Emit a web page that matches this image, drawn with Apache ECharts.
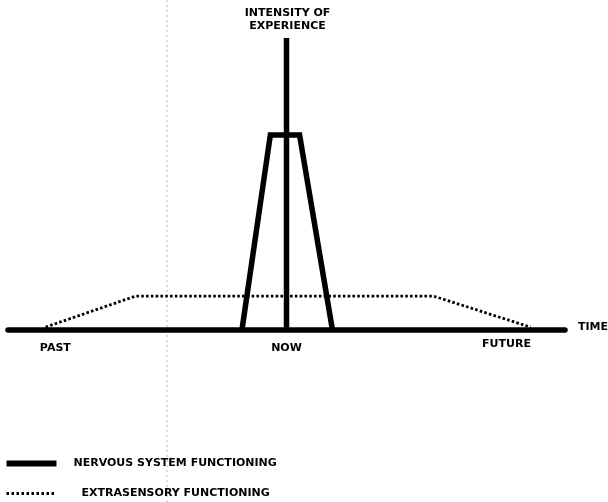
<!DOCTYPE html>
<html>
<head>
<meta charset="utf-8">
<script src="https://cdn.jsdelivr.net/npm/echarts@6/dist/echarts.min.js"></script>
<style>
html,body{margin:0;padding:0;background:#fff;}
#chart{width:608px;height:502px;}
</style>
</head>
<body>
<div id="chart"></div>
<script>
// Time axis: NOW = 0, PAST negative, FUTURE positive. Intensity: 0 (baseline) .. 10 (top of axis)
const seriesNames = ['NERVOUS SYSTEM FUNCTIONING', 'EXTRASENSORY FUNCTIONING'];
const timeLine = [[-10, 0], [10, 0]];                       // the time baseline
const intensityAxis = [[0, 0], [0, 10]];                    // vertical "intensity of experience" axis
const nervousTrapezoid = [[-1.6, 0], [-0.58, 6.68], [0.47, 6.68], [1.65, 0]];
const extrasensory = [[-8.65, 0.1], [-5.42, 1.16], [5.28, 1.16], [8.76, 0.1]];
const timeLabels = ['PAST', 'NOW', 'FUTURE'];
const timeLabelAt = [-8.3, 0, 7.9];
const axisTitle = 'INTENSITY OF\nEXPERIENCE';
const timeTitle = 'TIME';

const FONT = 'DejaVu Sans';
const chart = echarts.init(document.getElementById('chart'), null, {renderer: 'canvas'});

const thick = {color: '#000', width: 5.5, join: 'miter', cap: 'butt'};
function nsSeries(data, cap) {
  return {
    type: 'line', name: seriesNames[0], data: data, symbol: 'none', silent: true,
    clip: false, animation: false, z: 3,
    itemStyle: {color: '#000'},
    lineStyle: Object.assign({}, thick, cap ? {cap: cap} : {})
  };
}

chart.setOption({
  backgroundColor: '#fff',
  animation: false,
  grid: {left: 8, width: 557, top: 38, height: 292},
  xAxis: {type: 'value', min: -10, max: 10, show: false},
  yAxis: {type: 'value', min: 0, max: 10, show: false},
  legend: {
    orient: 'vertical', left: 5, top: 458, padding: 0,
    itemWidth: 50, itemHeight: 6, itemGap: 19,
    selectedMode: false,
    textStyle: {fontFamily: FONT, fontWeight: 'bold', fontSize: 11, color: '#000'},
    data: [
      {name: seriesNames[0], icon: 'rect', itemStyle: {color: '#000', opacity: 1},
       lineStyle: {width: 6, color: '#000'},
       textStyle: {padding: [0, 0, 0, 12]}},
      {name: seriesNames[1],
       itemStyle: {color: 'rgba(0,0,0,0)', opacity: 0, borderWidth: 0},
       lineStyle: {width: 3, type: [2.5, 2.5], color: '#000', opacity: 1},
       textStyle: {padding: [0, 0, 0, 20]}}
    ]
  },
  series: [
    {
      type: 'line', name: seriesNames[1], data: extrasensory, symbol: 'none', silent: true,
      clip: false, z: 2,
      itemStyle: {color: '#000'},
      lineStyle: {color: '#000', width: 2.8, type: [2.6, 2.2], cap: 'butt'}
    },
    nsSeries(timeLine, 'round'),
    nsSeries(nervousTrapezoid),
    nsSeries(intensityAxis)
  ]
});

// labels positioned through the chart's own scales
const texts = [];
timeLabels.forEach(function (t, i) {
  const p = chart.convertToPixel({gridIndex: 0}, [timeLabelAt[i], 0]);
  texts.push({type: 'text', x: p[0], y: p[1] + (i === 2 ? 14 : 18),
    style: {text: t, font: 'bold 11px "' + FONT + '"', fill: '#000', align: 'center', verticalAlign: 'middle'}});
});
const tp = chart.convertToPixel({gridIndex: 0}, [10, 0]);
texts.push({type: 'text', x: tp[0] + 13, y: tp[1] - 3,
  style: {text: timeTitle, font: 'bold 11px "' + FONT + '"', fill: '#000', align: 'left', verticalAlign: 'middle'}});
const ap = chart.convertToPixel({gridIndex: 0}, [0, 10]);
texts.push({type: 'text', x: ap[0] + 1, y: 7,
  style: {text: axisTitle, font: 'bold 11px "' + FONT + '"', lineHeight: 13, fill: '#000', align: 'center', verticalAlign: 'top'}});
// faint scan crease in the original page
texts.push({type: 'line', shape: {x1: 167, y1: 0, x2: 167, y2: 502}, silent: true,
  style: {stroke: '#888', lineWidth: 0.6, lineDash: [2, 3]}});
chart.setOption({graphic: texts});
</script>
</body>
</html>
